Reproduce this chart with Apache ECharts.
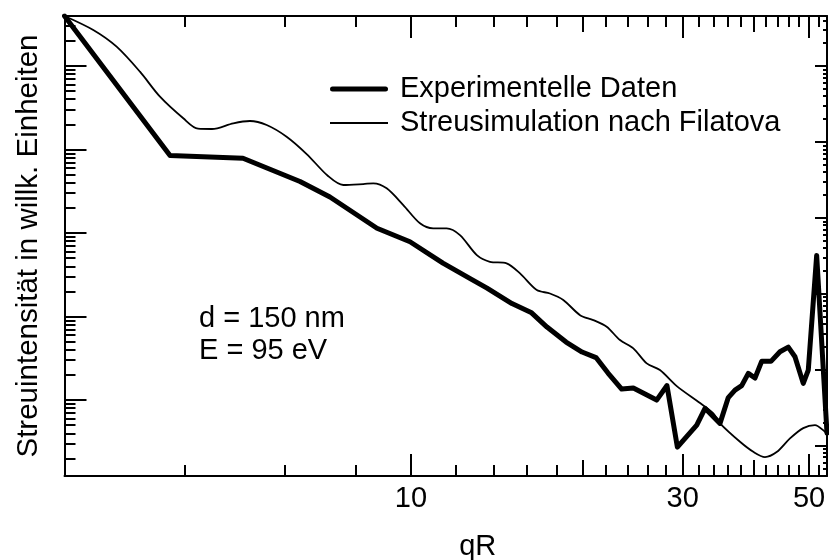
<!DOCTYPE html>
<html><head><meta charset="utf-8">
<script src="https://cdn.jsdelivr.net/npm/echarts@6/dist/echarts.min.js"></script>
<style>html,body{margin:0;padding:0;background:#fff}#c{width:829px;height:560px}</style>
</head><body><div id="c"></div>
<script>
// ---- data ----
const expX = [2.464, 3.775, 5.07, 6.385, 7.206, 8.716, 9.96, 11.38, 12.75, 13.6, 15.04, 16.25, 17.33, 18.72, 19.97, 21.13, 22.18, 23.44, 24.57, 25.76, 27.0, 28.15, 29.36, 31.75, 32.83, 34.88, 36.07, 37.06, 38.08, 39.11, 40.18, 41.28, 42.86, 44.45, 45.97, 47.23, 48.84, 49.84, 51.56, 53.76];
const expY = [39700, 848, 785, 414, 270, 114, 78.7, 43.7, 28.1, 21.9, 14.3, 11.2, 7.49, 4.95, 3.76, 3.23, 2.106, 1.354, 1.392, 1.18, 1.0, 1.492, 0.2735, 0.502, 0.796, 0.526, 1.071, 1.318, 1.492, 2.088, 1.834, 2.908, 2.908, 3.787, 4.312, 3.301, 1.585, 2.287, 54, 0.402];
const simX = [2.464, 2.768, 3.042, 3.343, 3.625, 3.983, 4.227, 4.473, 4.875, 5.216, 5.58, 6.048, 6.559, 7.151, 7.605, 8.246, 8.587, 9.064, 9.694, 10.37, 10.94, 11.55, 12.19, 13.05, 13.76, 14.72, 15.54, 16.63, 17.54, 18.51, 19.81, 20.9, 22.06, 23.28, 24.57, 25.94, 27.36, 29.29, 32.18, 33.95, 34.88, 37.82, 39.9, 41.84, 43.86, 46.29, 48.84, 51.2, 53.33, 53.76];
const simY = [39700, 26980, 17030, 8550, 4290, 2365, 1775, 1760, 2060, 2195, 1965, 1423, 883, 482, 376, 386, 394, 343, 216, 130.7, 113.8, 113.8, 94.6, 54.5, 45.3, 43.4, 32.9, 20.8, 18.9, 15.8, 10.4, 9.08, 7.55, 5.23, 4.16, 2.752, 2.287, 1.47, 0.921, 0.693, 0.526, 0.3167, 0.2404, 0.2077, 0.2384, 0.3478, 0.462, 0.502, 0.417, 0.391];
const seriesNames = ['Experimentelle Daten', 'Streusimulation nach Filatova'];
const xLabelTicks = [10, 30, 50];
const xMidTicks = [20, 40];
const xMinorTicks = [4, 6, 8, 12, 14, 16, 18, 22, 24, 26, 28, 32, 34, 36, 38, 42, 44, 46, 48, 52];
const yMajorTicks = [1, 10, 100, 1000, 10000];
const yMinorTicks = [0.2, 0.3, 0.4, 0.5, 0.6, 0.7, 0.8, 0.9, 2, 3, 4, 5, 6, 7, 8, 9, 20, 30, 40, 50, 60, 70, 80, 90, 200, 300, 400, 500, 600, 700, 800, 900, 2000, 3000, 4000, 5000, 6000, 7000, 8000, 9000, 20000, 30000];
const rMajorTicks = [1, 10, 100, 1000, 10000, 100000];
const rMinorTicks = [0.4, 0.5, 0.6, 0.7, 0.8, 0.9, 2, 3, 4, 5, 6, 7, 8, 9, 20, 30, 40, 50, 60, 70, 80, 90, 200, 300, 400, 500, 600, 700, 800, 900, 2000, 3000, 4000, 5000, 6000, 7000, 8000, 9000, 20000, 30000, 40000, 50000, 60000, 70000, 80000, 90000, 200000, 300000, 400000];
const xRange = [2.464, 53.76];
const yRange = [0.1233, 39700];
const rRange = [0.396, 456000];
const notes = ['d = 150 nm', 'E = 95 eV'];

// ---- chart ----
const FONT = '"Liberation Sans", Arial, sans-serif';
const BLK = '#000';
function xAx(pos, ticks, len, line, labels, name) {
  const a = {
    type: 'log', logBase: 10, position: pos, min: xRange[0], max: xRange[1],
    axisLine: { show: line, lineStyle: { color: BLK, width: 2 } },
    axisTick: { show: true, inside: true, length: len, customValues: ticks, lineStyle: { color: BLK, width: 2 } },
    axisLabel: labels ? { show: true, customValues: labels, margin: 8, color: BLK, fontSize: 29, fontFamily: FONT } : { show: false },
    splitLine: { show: false }, minorTick: { show: false }
  };
  if (name) {
    a.name = name; a.nameLocation = 'middle'; a.nameGap = 56;
    a.nameTextStyle = { color: BLK, fontSize: 29, fontFamily: FONT, padding: [0, 0, 0, 64] };
  }
  return a;
}
function yAx(pos, range, ticks, len, line, name) {
  const a = {
    type: 'log', logBase: 10, position: pos, min: range[0], max: range[1],
    axisLine: { show: line, lineStyle: { color: BLK, width: 2 } },
    axisTick: { show: true, inside: true, length: len, customValues: ticks, lineStyle: { color: BLK, width: 2 } },
    axisLabel: { show: false },
    splitLine: { show: false }, minorTick: { show: false }
  };
  if (name) {
    a.name = name; a.nameLocation = 'middle'; a.nameGap = 21;
    a.nameTextStyle = { color: BLK, fontSize: 29.5, fontFamily: FONT };
  }
  return a;
}
const thickIcon = 'path://M2.5,0 L55.5,0 A2.5,2.5 0 0 1 55.5,5 L2.5,5 A2.5,2.5 0 0 1 2.5,0 Z';
const thinIcon = 'path://M0,0 L58,0 L58,1.8 L0,1.8 Z';
const chart = echarts.init(document.getElementById('c'), null, { renderer: 'canvas' });
chart.setOption({
  backgroundColor: '#fff',
  animation: false,
  grid: { left: 64.5, right: 2, top: 16, bottom: 84, outerBoundsMode: 'none', containLabel: false },
  legend: {
    data: [
      { name: seriesNames[0], icon: thickIcon, itemStyle: { color: BLK, borderWidth: 0 } },
      { name: seriesNames[1], icon: thinIcon, itemStyle: { color: BLK, borderWidth: 0 } }
    ],
    orient: 'vertical', left: 330, top: 74.5, padding: 0,
    itemWidth: 58, itemHeight: 14, itemGap: 5, symbolKeepAspect: true,
    itemStyle: { borderWidth: 0 },
    textStyle: { color: BLK, fontSize: 29, fontFamily: FONT, padding: [0, 0, 0, 7] }
  },
  xAxis: [
    xAx('bottom', xLabelTicks, 22, true, xLabelTicks, 'qR'),
    xAx('bottom', xMidTicks, 16, false),
    xAx('bottom', xMinorTicks, 11, false),
    xAx('top', xLabelTicks, 22, true),
    xAx('top', xMidTicks, 16, false),
    xAx('top', xMinorTicks, 11, false)
  ],
  yAxis: [
    yAx('left', yRange, yMajorTicks, 22, true, 'Streuintensität in willk. Einheiten'),
    yAx('left', yRange, yMinorTicks, 11, false),
    yAx('right', rRange, rMajorTicks, 12, true),
    yAx('right', rRange, rMinorTicks, 4, false)
  ],
  graphic: [
    { type: 'text', left: 199, top: 304, style: { text: notes[0], fill: BLK, font: '29px ' + FONT } },
    { type: 'text', left: 199, top: 336, style: { text: notes[1], fill: BLK, font: '29px ' + FONT } }
  ],
  series: [
    {
      name: seriesNames[0], type: 'line', xAxisIndex: 0, yAxisIndex: 0, symbol: 'none',
      data: expX.map((x, i) => [x, expY[i]]),
      lineStyle: { color: BLK, width: 5, join: 'round', cap: 'round' }, itemStyle: { color: BLK }
    },
    {
      name: seriesNames[1], type: 'line', xAxisIndex: 0, yAxisIndex: 0, symbol: 'none', smooth: 0.3,
      data: simX.map((x, i) => [x, simY[i]]),
      lineStyle: { color: BLK, width: 1.8 }, itemStyle: { color: BLK }
    }
  ]
});
</script></body></html>
